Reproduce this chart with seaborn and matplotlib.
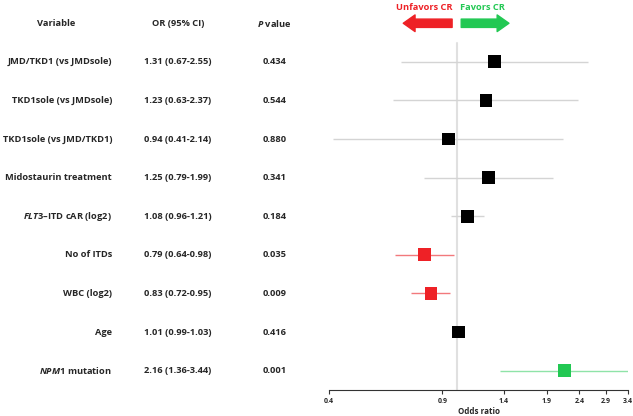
'''
Forest plot of odds ratios for CR with the variable / OR / P value table on the left
'''
import numpy as np
import pandas as pd
import matplotlib
matplotlib.use('Agg')
import matplotlib.pyplot as plt
import matplotlib.transforms as mtransforms
from matplotlib.ticker import FixedLocator, FixedFormatter, NullLocator
import seaborn as sns

variables = ['JMD/TKD1 (vs JMDsole)', 'TKD1sole (vs JMDsole)', 'TKD1sole (vs JMD/TKD1)',
             'Midostaurin treatment', r'$\mathit{FLT3}$–ITD cAR (log2)', 'No of ITDs',
             'WBC (log2)', 'Age', r'$\mathit{NPM1}$ mutation']
odds = [1.31, 1.23, 0.94, 1.25, 1.08, 0.79, 0.83, 1.01, 2.16]
ci_low = [0.67, 0.63, 0.41, 0.79, 0.96, 0.64, 0.72, 0.99, 1.36]
ci_high = [2.55, 2.37, 2.14, 1.99, 1.21, 0.98, 0.95, 1.03, 3.44]
p_values = ['0.434', '0.544', '0.880', '0.341', '0.184', '0.035', '0.009', '0.416', '0.001']
tick_values = [0.4, 0.9, 1.4, 1.9, 2.4, 2.9, 3.4]

sns.set_theme(style='white')
plt.rcParams['font.family'] = ['Open Sans', 'DejaVu Sans']
plt.rcParams['font.weight'] = 'bold'
plt.rcParams['mathtext.fontset'] = 'custom'
plt.rcParams['mathtext.it'] = 'Open Sans:italic:bold'
plt.rcParams['mathtext.rm'] = 'Open Sans:bold'

'''
build the table and tag each row by the side of 1 the CI falls on
'''
df = pd.DataFrame({'variable': variables, 'odds': odds, 'lo': ci_low, 'hi': ci_high,
                   'p': p_values, 'row': np.arange(len(variables))})
df['effect'] = np.where(df['lo'] > 1, 'pos', np.where(df['hi'] < 1, 'neg', 'ns'))

marker_colors = {'ns': '#000000', 'neg': '#ee2126', 'pos': '#22c853'}
line_colors = {'ns': '#d4d4d4', 'neg': '#f2797c', 'pos': '#8fe3a8'}

fig = plt.figure(figsize=(6.33, 4.16), dpi=100)
ax = fig.add_axes([0.52, 0.0625, 0.472, 0.928])

ax.plot([1, 1], [-0.5, 8.5], color='#e0e0e0', lw=1.5, zorder=1)
ax.hlines(df['row'], df['lo'], df['hi'], colors=[line_colors[e] for e in df['effect']],
          lw=1, zorder=2)
sns.scatterplot(data=df, x='odds', y='row', hue='effect', palette=marker_colors,
                marker='s', s=85, linewidth=0, legend=False, zorder=3, ax=ax)

ax.set_xscale('log')
ax.set_xlim(0.4, 3.4)
ax.set_ylim(8.5, -1.5)
ax.xaxis.set_major_locator(FixedLocator(tick_values))
ax.xaxis.set_major_formatter(FixedFormatter([str(t) for t in tick_values]))
ax.xaxis.set_minor_locator(NullLocator())
ax.tick_params(axis='x', bottom=True, length=3, width=0.8, labelsize=5, pad=3, color='#333333')
ax.set_yticks([])
ax.set_ylabel('')
ax.set_xlabel('Odds ratio', fontsize=5.8, fontweight='bold', labelpad=1)
sns.despine(ax=ax, left=True)
ax.spines['bottom'].set_color('#333333')
ax.spines['bottom'].set_linewidth(0.8)

'''
table text on the left, x in figure coords and y in row coords
'''
trans = mtransforms.blended_transform_factory(fig.transFigure, ax.transData)
fs = 6.7
ax.text(0.088, -1, 'Variable', transform=trans, ha='center', va='center', fontsize=fs, clip_on=False)
ax.text(0.281, -1, 'OR (95% CI)', transform=trans, ha='center', va='center', fontsize=fs, clip_on=False)
ax.text(0.434, -1, r'$\mathit{P}$ value', transform=trans, ha='center', va='center', fontsize=fs, clip_on=False)
for _, r in df.iterrows():
    ax.text(0.177, r['row'], r['variable'], transform=trans, ha='right', va='center',
            fontsize=fs, clip_on=False)
    ax.text(0.281, r['row'], f"{r['odds']:.2f} ({r['lo']:.2f}-{r['hi']:.2f})", transform=trans,
            ha='center', va='center', fontsize=fs, clip_on=False)
    ax.text(0.434, r['row'], r['p'], transform=trans, ha='center', va='center',
            fontsize=fs, clip_on=False)

'''
direction arrows above the plot
'''
arrow = 'simple,head_length=8.5,head_width=12,tail_width=6'
ax.annotate('', xy=(0.68, -1), xytext=(0.965, -1),
            arrowprops=dict(arrowstyle=arrow, mutation_scale=1, color=marker_colors['neg'],
                            shrinkA=0, shrinkB=0), annotation_clip=False)
ax.annotate('', xy=(1.45, -1), xytext=(1.03, -1),
            arrowprops=dict(arrowstyle=arrow, mutation_scale=1, color=marker_colors['pos'],
                            shrinkA=0, shrinkB=0), annotation_clip=False)
ax.text(0.79, -1.4, 'Unfavors CR', color=marker_colors['neg'], ha='center', va='center',
        fontsize=fs, clip_on=False)
ax.text(1.2, -1.4, 'Favors CR', color=marker_colors['pos'], ha='center', va='center',
        fontsize=fs, clip_on=False)

fig.savefig('out.png', dpi=100)
